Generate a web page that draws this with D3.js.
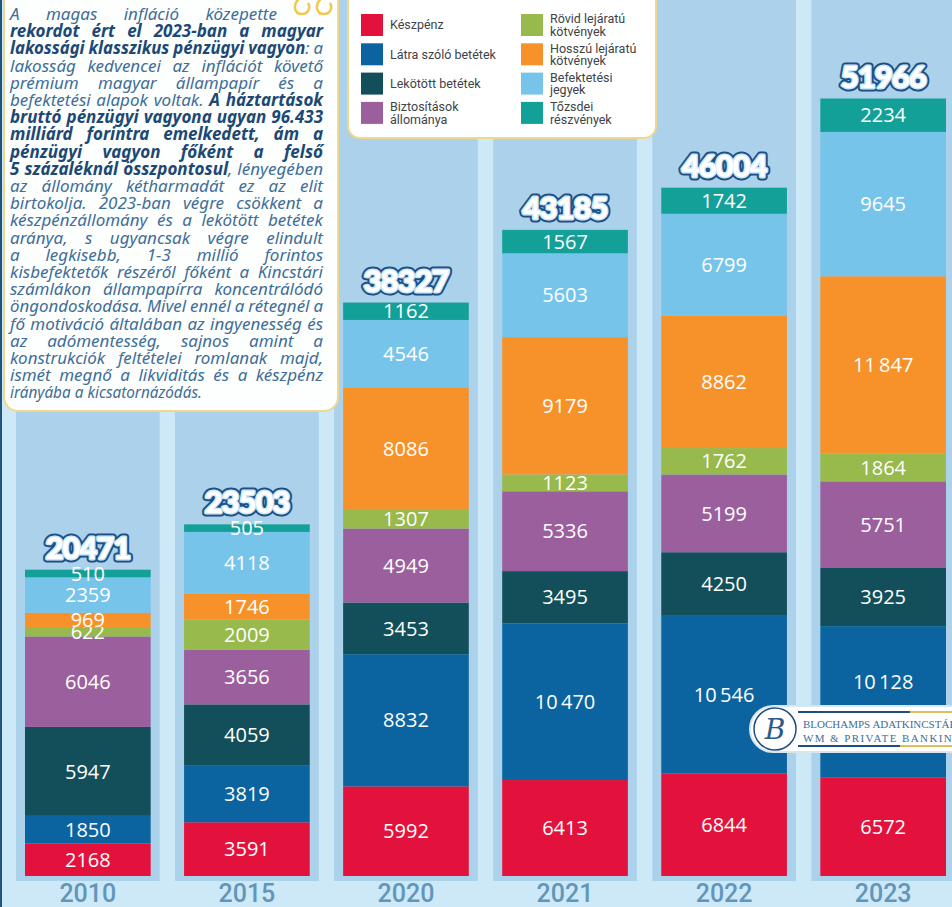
<!DOCTYPE html>
<html>
<head>
<meta charset="utf-8">
<script src="https://cdn.jsdelivr.net/npm/d3@7"></script>
<style>
  body { margin: 0; background: #cde8f7; }
  svg { display: block; }
</style>
</head>
<body>
<div id="chart"></div>
<script>
// adatok (milliárd Ft)
var years = ["2010", "2015", "2020", "2021", "2022", "2023"];
var totals = [20471, 23503, 38327, 43185, 46004, 51966];

var keszpenz    = [2168, 3591, 5992, 6413, 6844, 6572];
var latra       = [1850, 3819, 8832, 10470, 10546, 10128];
var lekotott    = [5947, 4059, 3453, 3495, 4250, 3925];
var biztositas  = [6046, 3656, 4949, 5336, 5199, 5751];
var rovid       = [622, 2009, 1307, 1123, 1762, 1864];
var hosszu      = [969, 1746, 8086, 9179, 8862, 11847];
var befjegy     = [2359, 4118, 4546, 5603, 6799, 9645];
var reszveny    = [510, 505, 1162, 1567, 1742, 2234];

var keys = ["Készpénz", "Látra szóló betétek", "Lekötött betétek", "Biztosítások állománya",
            "Rövid lejáratú kötvények", "Hosszú lejáratú kötvények", "Befektetési jegyek", "Tőzsdei részvények"];
var series = [keszpenz, latra, lekotott, biztositas, rovid, hosszu, befjegy, reszveny];
var colors = ["#e3123c", "#0b64a0", "#134f5a", "#9b5f9d", "#98b94b", "#f7922a", "#77c4eb", "#13a098"];

var W = 952, H = 907;

var svg = d3.select("#chart").append("svg")
    .attr("width", W)
    .attr("height", H);

svg.append("rect").attr("width", W).attr("height", H).attr("fill", "#cde8f7");

// scales
var x = d3.scaleBand()
    .domain(years)
    .range([25, 946])
    .paddingInner(0.21);

var y = d3.scaleLinear()
    .domain([0, 52000])
    .range([876, 98]);

// tabla a stackhez
var table = years.map(function(yr, i) {
    var row = {year: yr};
    keys.forEach(function(k, j) { row[k] = series[j][i]; });
    return row;
});
var stacked = d3.stack().keys(keys)(table);

// hatter oszlopok
svg.append("g").selectAll("rect")
    .data(years)
    .join("rect")
    .attr("x", d => x(d) - 9)
    .attr("y", 0)
    .attr("width", x.bandwidth() + 18)
    .attr("height", y(0) + 5)
    .attr("fill", "#abd2ea");

// bal szel
svg.append("rect").attr("x", 0).attr("y", 0).attr("width", 2).attr("height", H).attr("fill", "#24527f");

// szegmensek
var layers = svg.append("g").selectAll("g")
    .data(stacked)
    .join("g")
    .attr("fill", (d, i) => colors[i]);

layers.selectAll("rect")
    .data(d => d)
    .join("rect")
    .attr("x", d => x(d.data.year))
    .attr("y", d => y(d[1]))
    .attr("width", x.bandwidth())
    .attr("height", d => y(d[0]) - y(d[1]));

// logo helye - ide nem kerulhet felirat
var logoTop = 706, logoLeft = 750;

// szegmens feliratok
layers.selectAll("text")
    .data(d => d.map(v => ({v: v, key: d.key})))
    .join("text")
    .attr("x", d => x(d.v.data.year) + x.bandwidth() / 2)
    .attr("y", d => {
        var cy = (y(d.v[0]) + y(d.v[1])) / 2;
        if (x(d.v.data.year) > logoLeft && cy > logoTop - 14 && cy < logoTop + 50) cy = logoTop - 24;
        return cy;
    })
    .attr("dy", "0.36em")
    .attr("text-anchor", "middle")
    .attr("fill", "#ffffff")
    .style("font-family", "'Open Sans', sans-serif")
    .style("font-weight", 500)
    .style("font-size", "20px")
    .text(d => {
        var val = d.v.data[d.key];
        return val >= 10000 ? d3.format(",")(val).replace(",", "\u2009") : val;
    });

// osszegek
var topTotals = stacked[stacked.length - 1];
var totG = svg.append("g").selectAll("g")
    .data(years)
    .join("g")
    .attr("transform", (d, i) => "translate(" + (x(d) + x.bandwidth() / 2) + "," + (y(topTotals[i][1]) - 11) + ")");

[["#1e4f87", 7], ["#cbe8f8", 3]].forEach(function(s) {
    totG.append("text")
        .attr("text-anchor", "middle")
        .attr("fill", "none")
        .attr("stroke", s[0])
        .attr("stroke-width", s[1])
        .attr("stroke-linejoin", "round")
        .style("font-family", "Lato, sans-serif")
        .style("font-weight", 900)
        .style("font-size", "31px")
        .style("letter-spacing", "-1px")
        .text((d, i) => totals[i]);
});
totG.append("text")
    .attr("text-anchor", "middle")
    .attr("fill", "#ffffff")
    .style("font-family", "Lato, sans-serif")
    .style("font-weight", 900)
    .style("font-size", "31px")
    .style("letter-spacing", "-1px")
    .text((d, i) => totals[i]);

// evszamok
svg.append("g").selectAll("text")
    .data(years)
    .join("text")
    .attr("x", d => x(d) + x.bandwidth() / 2)
    .attr("y", 902)
    .attr("text-anchor", "middle")
    .attr("fill", "#6196bb")
    .style("font-family", "Roboto, sans-serif")
    .style("font-weight", 500)
    .style("font-size", "25px")
    .text(d => d);

// szoveg doboz
svg.append("rect")
    .attr("x", 4).attr("y", -20)
    .attr("width", 334).attr("height", 431)
    .attr("rx", 14)
    .attr("fill", "#fdfefe")
    .attr("stroke", "#f0d78e")
    .attr("stroke-width", 2);

// idezojel diszites
var q = svg.append("g").attr("fill", "none").attr("stroke", "#f0c955").attr("stroke-width", 2.5);
q.append("path").attr("d", "M300,-2 C292,4 294,14 302,14 C308,14 311,8 308,3");
q.append("path").attr("d", "M322,-2 C314,4 316,14 324,14 C330,14 333,8 330,3");

var textLines = [
    "A magas infláció közepette",
    "*rekordot ért el 2023-ban a magyar*",
    "*lakossági klasszikus pénzügyi vagyon*: a",
    "lakosság kedvencei az inflációt követő",
    "prémium magyar állampapír és a",
    "befektetési alapok voltak. *A háztartások*",
    "*bruttó pénzügyi vagyona ugyan 96.433*",
    "*milliárd forintra emelkedett, ám a*",
    "*pénzügyi vagyon főként a felső*",
    "*5 százaléknál összpontosul*, lényegében",
    "az állomány kétharmadát ez az elit",
    "birtokolja. 2023-ban végre csökkent a",
    "készpénzállomány és a lekötött betétek",
    "aránya, s ugyancsak végre elindult",
    "a legkisebb, 1-3 millió forintos",
    "kisbefektetők részéről főként a Kincstári",
    "számlákon állampapírra koncentrálódó",
    "öngondoskodása. Mivel ennél a rétegnél a",
    "fő motiváció általában az ingyenesség és",
    "az adómentesség, sajnos amint a",
    "konstrukciók feltételei romlanak majd,",
    "ismét megnő a likviditás és a készpénz",
    "irányába a kicsatornázódás."
];

var textG = svg.append("g")
    .style("font-family", "'Noto Sans', sans-serif")
    .style("font-style", "italic");

var bold = false;
textLines.forEach(function(line, li) {
    var lineY = 20 + li * 17.2;
    var right = li === 0 ? 277 : 323;
    var left = 10;
    var g = textG.append("g");
    var words = line.split(" ");
    var nodes = [];
    words.forEach(function(w) {
        var t = g.append("text").attr("y", lineY).style("font-size", "17px");
        var parts = w.split("*");
        parts.forEach(function(p, pi) {
            if (pi > 0) bold = !bold;
            if (p.length) {
                t.append("tspan")
                    .attr("fill", bold ? "#1c4874" : "#3f6e98")
                    .style("font-weight", bold ? 700 : 400)
                    .text(p);
            }
        });
        nodes.push({el: t, w: t.node().getComputedTextLength()});
    });
    var sum = d3.sum(nodes, d => d.w);
    var last = li === textLines.length - 1;
    var gap = last ? 4.5 : (right - left - sum) / Math.max(1, nodes.length - 1);
    var scale = 1;
    if (gap < 4) {
        gap = 4;
        scale = (right - left) / (sum + gap * (nodes.length - 1));
    }
    if (last) scale = 0.9;
    var cx = left;
    nodes.forEach(function(n) {
        n.el.attr("x", cx);
        cx += n.w + gap;
    });
    if (scale !== 1) {
        g.attr("transform", "translate(" + left + ",0) scale(" + scale + ",1) translate(" + (-left) + ",0)");
    }
});

// jelmagyarazat
svg.append("rect")
    .attr("x", 348).attr("y", -20)
    .attr("width", 308).attr("height", 158)
    .attr("rx", 12)
    .attr("fill", "#ffffff")
    .attr("stroke", "#f0d78e")
    .attr("stroke-width", 2);

var legendLabels = [
    ["Készpénz"], ["Látra szóló betétek"], ["Lekötött betétek"], ["Biztosítások", "állománya"],
    ["Rövid lejáratú", "kötvények"], ["Hosszú lejáratú", "kötvények"], ["Befektetési", "jegyek"], ["Tőzsdei", "részvények"]
];

var leg = svg.append("g").selectAll("g")
    .data(keys)
    .join("g")
    .attr("transform", (d, i) => "translate(" + (i < 4 ? 361 : 521) + "," + (14 + (i % 4) * 29.3) + ")");

leg.append("rect")
    .attr("width", 22).attr("height", 22)
    .attr("fill", (d, i) => colors[i]);

leg.each(function(d, i) {
    var lines = legendLabels[i];
    var g = d3.select(this);
    lines.forEach(function(l, k) {
        g.append("text")
            .attr("x", 29)
            .attr("y", lines.length === 1 ? 11 : (k === 0 ? 5 : 17.5))
            .attr("dy", "0.35em")
            .attr("fill", "#3e4347")
            .style("font-family", "Roboto, sans-serif")
            .style("font-size", "12.5px")
            .text(l);
    });
});

// logo
var logo = svg.append("g").attr("transform", "translate(" + logoLeft + "," + logoTop + ")");
logo.append("rect")
    .attr("x", 0).attr("y", 0).attr("width", 240).attr("height", 46).attr("rx", 23)
    .attr("fill", "#ffffff").attr("stroke", "#d9e6ef").attr("stroke-width", 2);
logo.append("line").attr("x1", 48).attr("x2", 240).attr("y1", 6).attr("y2", 6)
    .attr("stroke", "#1f4f80").attr("stroke-width", 2);
logo.append("line").attr("x1", 160).attr("x2", 240).attr("y1", 6).attr("y2", 6)
    .attr("stroke", "#e0bf5a").attr("stroke-width", 2);
logo.append("line").attr("x1", 48).attr("x2", 240).attr("y1", 40).attr("y2", 40)
    .attr("stroke", "#1f4f80").attr("stroke-width", 2);
logo.append("line").attr("x1", 150).attr("x2", 240).attr("y1", 40).attr("y2", 40)
    .attr("stroke", "#e0bf5a").attr("stroke-width", 2);
logo.append("circle").attr("cx", 25).attr("cy", 23).attr("r", 21)
    .attr("fill", "#ffffff").attr("stroke", "#1f4f80").attr("stroke-width", 1.5);
logo.append("text").attr("x", 25).attr("y", 33).attr("text-anchor", "middle")
    .attr("fill", "#2b5a8a")
    .style("font-family", "'DejaVu Serif', serif").style("font-style", "italic")
    .style("font-size", "28px").text("B");
logo.append("text").attr("x", 53).attr("y", 22)
    .attr("fill", "#3d6d96")
    .style("font-family", "'Liberation Serif', serif").style("font-size", "11px")
    .text("BLOCHAMPS ADATKINCSTÁR");
logo.append("text").attr("x", 53).attr("y", 36)
    .attr("fill", "#3d6d96")
    .style("font-family", "'Liberation Serif', serif").style("font-size", "11px")
    .style("letter-spacing", "1.4px")
    .text("WM & PRIVATE BANKING");
</script>
</body>
</html>
